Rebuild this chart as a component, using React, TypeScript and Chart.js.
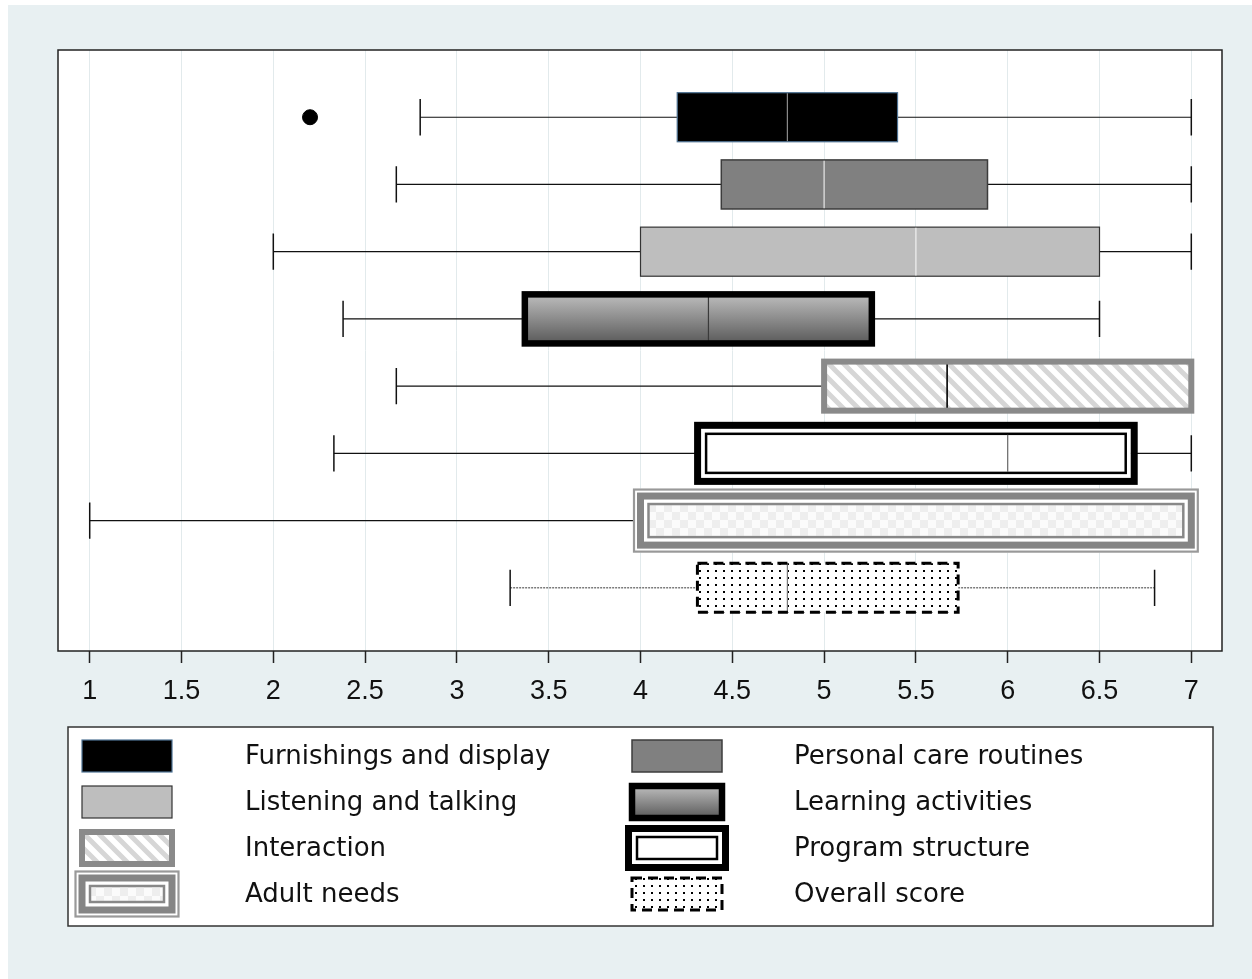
import React, { useEffect, useRef } from "react";
import { Chart, registerables } from "chart.js";

Chart.register(...registerables);

// ---------- data ----------
const CATEGORIES = [
  "Furnishings and display",
  "Personal care routines",
  "Listening and talking",
  "Learning activities",
  "Interaction",
  "Program structure",
  "Adult needs",
  "Overall score",
];
const WHISKER_LOW = [2.8, 2.67, 2.0, 2.38, 2.67, 2.33, 1.0, 3.29];
const Q1 = [4.2, 4.44, 4.0, 3.37, 5.0, 4.33, 4.0, 4.31];
const MEDIAN = [4.8, 5.0, 5.5, 4.37, 5.67, 6.0, 4.0, 4.8];
const Q3 = [5.4, 5.89, 6.5, 5.26, 7.0, 6.67, 7.0, 5.73];
const WHISKER_HIGH = [7.0, 7.0, 7.0, 6.5, 7.0, 7.0, 7.0, 6.8];
const OUTLIER_X = [2.2];
const OUTLIER_CAT = [0];
const TICK_VALUES = [1, 1.5, 2, 2.5, 3, 3.5, 4, 4.5, 5, 5.5, 6, 6.5, 7];
const TICK_LABELS = ["1", "1.5", "2", "2.5", "3", "3.5", "4", "4.5", "5", "5.5", "6", "6.5", "7"];

// ---------- styles ----------
type Sty = "black" | "dark" | "light" | "gradient" | "hatch" | "program" | "adult" | "dotted";
const BOX_STYLES: Sty[] = ["black", "dark", "light", "gradient", "hatch", "program", "adult", "dotted"];

interface Pats {
  hatch: CanvasPattern | string;
  dots: CanvasPattern | string;
  checker: CanvasPattern | string;
}

function makePatterns(ctx: CanvasRenderingContext2D): Pats {
  const mk = (w: number, h: number, draw: (c: CanvasRenderingContext2D) => void) => {
    const c = document.createElement("canvas");
    c.width = w;
    c.height = h;
    const cc = c.getContext("2d")!;
    draw(cc);
    return ctx.createPattern(c, "repeat") || "#fff";
  };
  const hatch = mk(15, 15, (c) => {
    c.fillStyle = "#ffffff";
    c.fillRect(0, 0, 15, 15);
    c.strokeStyle = "#d6d6d6";
    c.lineWidth = 5;
    c.beginPath();
    c.moveTo(-15, -15);
    c.lineTo(30, 30);
    c.moveTo(0, -15);
    c.lineTo(30, 15);
    c.moveTo(-15, 0);
    c.lineTo(15, 30);
    c.stroke();
  });
  const dots = mk(8, 7, (c) => {
    c.fillStyle = "#ffffff";
    c.fillRect(0, 0, 8, 7);
    c.fillStyle = "#000000";
    c.fillRect(3, 3, 2, 2);
  });
  const checker = mk(16, 16, (c) => {
    c.fillStyle = "#fbfbfb";
    c.fillRect(0, 0, 16, 16);
    c.fillStyle = "#eeeeee";
    c.fillRect(0, 0, 8, 8);
    c.fillRect(8, 8, 8, 8);
  });
  return { hatch, dots, checker };
}

function drawBox(
  ctx: CanvasRenderingContext2D,
  sty: Sty,
  x0: number,
  x1: number,
  yc: number,
  h: number,
  med: number | null,
  pats: Pats
) {
  const y0 = yc - h;
  const y1 = yc + h;
  const w = x1 - x0;
  const ht = 2 * h;
  const medLine = (color: string, lw: number, a = 0) => {
    if (med === null) return;
    ctx.save();
    ctx.strokeStyle = color;
    ctx.lineWidth = lw;
    ctx.setLineDash([]);
    ctx.beginPath();
    ctx.moveTo(med, y0 + a);
    ctx.lineTo(med, y1 - a);
    ctx.stroke();
    ctx.restore();
  };
  ctx.save();
  ctx.setLineDash([]);
  switch (sty) {
    case "black":
      ctx.fillStyle = "#000";
      ctx.fillRect(x0, y0, w, ht);
      ctx.strokeStyle = "#4f7394";
      ctx.lineWidth = 1.2;
      ctx.strokeRect(x0, y0, w, ht);
      medLine("#8c8c8c", 1.2, 0.6);
      break;
    case "dark":
      ctx.fillStyle = "#808080";
      ctx.fillRect(x0, y0, w, ht);
      ctx.strokeStyle = "#3c3c3c";
      ctx.lineWidth = 1.5;
      ctx.strokeRect(x0, y0, w, ht);
      medLine("#e8e8e8", 1.2, 0.8);
      break;
    case "light":
      ctx.fillStyle = "#bebebe";
      ctx.fillRect(x0, y0, w, ht);
      ctx.strokeStyle = "#333";
      ctx.lineWidth = 1.2;
      ctx.strokeRect(x0, y0, w, ht);
      medLine("#f2f2f2", 1.2, 0.6);
      break;
    case "gradient": {
      const g = ctx.createLinearGradient(0, y0, 0, y1);
      g.addColorStop(0, "#bdbdbd");
      g.addColorStop(1, "#5a5a5a");
      ctx.fillStyle = g;
      ctx.fillRect(x0, y0, w, ht);
      medLine("#3a3a3a", 1.2);
      ctx.strokeStyle = "#000";
      ctx.lineWidth = 6.5;
      ctx.strokeRect(x0, y0, w, ht);
      break;
    }
    case "hatch":
      ctx.fillStyle = pats.hatch;
      ctx.fillRect(x0, y0, w, ht);
      medLine("#000", 1.6);
      ctx.strokeStyle = "#8a8a8a";
      ctx.lineWidth = 6;
      ctx.strokeRect(x0, y0, w, ht);
      break;
    case "program":
      ctx.fillStyle = "#fff";
      ctx.fillRect(x0, y0, w, ht);
      ctx.strokeStyle = "#000";
      ctx.lineWidth = 7;
      ctx.strokeRect(x0 - 3.5, y0 - 3.5, w + 7, ht + 7);
      ctx.lineWidth = 2.5;
      ctx.strokeRect(x0 + 5, y0 + 5, w - 10, ht - 10);
      medLine("#666", 1.2, 6);
      break;
    case "adult":
      ctx.fillStyle = "#fff";
      ctx.fillRect(x0 - 7.5, y0 - 7.5, w + 15, ht + 15);
      ctx.fillStyle = pats.checker;
      ctx.fillRect(x0 + 9.25, y0 + 9.25, w - 18.5, ht - 18.5);
      ctx.strokeStyle = "#888888";
      ctx.lineWidth = 2.5;
      ctx.strokeRect(x0 + 8, y0 + 8, w - 16, ht - 16);
      medLine("#cdc596", 1.6, 3);
      ctx.strokeStyle = "#858585";
      ctx.lineWidth = 7;
      ctx.strokeRect(x0, y0, w, ht);
      ctx.strokeStyle = "#999999";
      ctx.lineWidth = 2.2;
      ctx.strokeRect(x0 - 6.5, y0 - 6.5, w + 13, ht + 13);
      break;
    case "dotted":
      ctx.fillStyle = pats.dots;
      ctx.fillRect(x0, y0, w, ht);
      medLine("#777", 1.2);
      ctx.strokeStyle = "#000";
      ctx.lineWidth = 3;
      ctx.setLineDash([10, 6]);
      ctx.strokeRect(x0, y0, w, ht);
      break;
  }
  ctx.restore();
}

const BOX_HALF = 0.365; // in category units
const CAP_HALF = 0.27;

export default function App() {
  const ref = useRef<HTMLCanvasElement>(null);
  useEffect(() => {
    document.body.style.margin = "0";
    const canvas = ref.current!;
    const ctx0 = canvas.getContext("2d")!;
    const pats = makePatterns(ctx0);

    const boxPlugin = {
      id: "boxes",
      beforeDraw(chart: any) {
        const { ctx, chartArea } = chart;
        ctx.save();
        ctx.fillStyle = "#ffffff";
        ctx.fillRect(0, 0, chart.width, chart.height);
        ctx.fillStyle = "#e8f0f2";
        ctx.fillRect(8, 5, chart.width - 8, chart.height - 5);
        ctx.fillStyle = "#ffffff";
        ctx.fillRect(chartArea.left, chartArea.top, chartArea.right - chartArea.left, chartArea.bottom - chartArea.top);
        ctx.restore();
      },
      afterDatasetsDraw(chart: any) {
        const { ctx } = chart;
        const xs = chart.scales.x;
        const ys = chart.scales.y;
        CATEGORIES.forEach((_, i) => {
          const yc = ys.getPixelForValue(i);
          const h = Math.abs(ys.getPixelForValue(i + BOX_HALF) - yc);
          const ch = Math.abs(ys.getPixelForValue(i + CAP_HALF) - yc);
          const xl = xs.getPixelForValue(WHISKER_LOW[i]);
          const xq1 = xs.getPixelForValue(Q1[i]);
          const xm = xs.getPixelForValue(MEDIAN[i]);
          const xq3 = xs.getPixelForValue(Q3[i]);
          const xh = xs.getPixelForValue(WHISKER_HIGH[i]);
          ctx.save();
          const dottedW = BOX_STYLES[i] === "dotted";
          ctx.strokeStyle = dottedW ? "#7a7a7a" : "#111";
          ctx.lineWidth = dottedW ? 1.5 : 1.2;
          if (dottedW) ctx.setLineDash([2, 1]);
          ctx.beginPath();
          ctx.moveTo(xl, yc);
          ctx.lineTo(xq1, yc);
          ctx.moveTo(xq3, yc);
          ctx.lineTo(xh, yc);
          ctx.stroke();
          ctx.setLineDash([]);
          ctx.strokeStyle = "#111";
          ctx.lineWidth = 1.5;
          ctx.beginPath();
          ctx.moveTo(xl, yc - ch);
          ctx.lineTo(xl, yc + ch);
          ctx.moveTo(xh, yc - ch);
          ctx.lineTo(xh, yc + ch);
          ctx.stroke();
          ctx.restore();
          drawBox(ctx, BOX_STYLES[i], xq1, xq3, yc, h, xm, pats);
        });
      },
      afterDraw(chart: any) {
        const { ctx, chartArea } = chart;
        ctx.save();
        ctx.strokeStyle = "#222";
        ctx.lineWidth = 1.5;
        ctx.strokeRect(chartArea.left, chartArea.top, chartArea.right - chartArea.left, chartArea.bottom - chartArea.top);
        // legend
        const L = 68, T = 727, R = 1213, B = 926;
        ctx.fillStyle = "#fff";
        ctx.fillRect(L, T, R - L, B - T);
        ctx.strokeStyle = "#333";
        ctx.lineWidth = 1.5;
        ctx.strokeRect(L, T, R - L, B - T);
        const symCx = [127, 677];
        const txtX = [245, 794];
        ctx.font = '26px "DejaVu Sans"';
        ctx.textBaseline = "middle";
        ctx.textAlign = "left";
        CATEGORIES.forEach((label, k) => {
          const col = k % 2;
          const row = Math.floor(k / 2);
          const cy = 756 + 46 * row;
          drawBox(ctx, BOX_STYLES[k], symCx[col] - 45, symCx[col] + 45, cy, 16, null, pats);
          ctx.fillStyle = "#111";
          ctx.fillText(label, txtX[col], cy + 1);
        });
        ctx.restore();
      },
    };

    const chart = new Chart(canvas, {
      type: "scatter",
      data: {
        datasets: [
          {
            label: "outliers",
            data: OUTLIER_X.map((x, k) => ({ x, y: OUTLIER_CAT[k] })),
            backgroundColor: "#000",
            borderColor: "#000",
            pointRadius: 7.5,
            pointHoverRadius: 7.5,
          },
        ],
      },
      options: {
        responsive: false,
        animation: false,
        events: [],
        layout: { padding: { left: 58, top: 50, right: 30, bottom: 268 } },
        plugins: { legend: { display: false }, tooltip: { enabled: false } },
        scales: {
          x: {
            type: "linear",
            min: 0.8273,
            max: 7.1672,
            afterBuildTicks: (s: any) => {
              s.ticks = TICK_VALUES.map((v) => ({ value: v }));
            },
            afterFit: (s: any) => {
              s.height = 60;
            },
            grid: {
              color: "#e2eaec",
              lineWidth: 1,
              tickColor: "#222",
              tickWidth: 1.5,
              tickLength: 12,
            },
            border: { display: false },
            ticks: {
              autoSkip: false,
              maxRotation: 0,
              padding: 12,
              color: "#111",
              font: { family: "Liberation Sans", size: 27 },
              callback: (v: any) => {
                const idx = TICK_VALUES.indexOf(Number(v));
                return idx >= 0 ? TICK_LABELS[idx] : "";
              },
            },
          },
          y: {
            type: "linear",
            min: -1.0,
            max: 7.94,
            reverse: true,
            display: false,
          },
        },
      },
      plugins: [boxPlugin],
    });
    return () => chart.destroy();
  }, []);
  return <canvas ref={ref} width={1252} height={979} style={{ display: "block" }} />;
}
